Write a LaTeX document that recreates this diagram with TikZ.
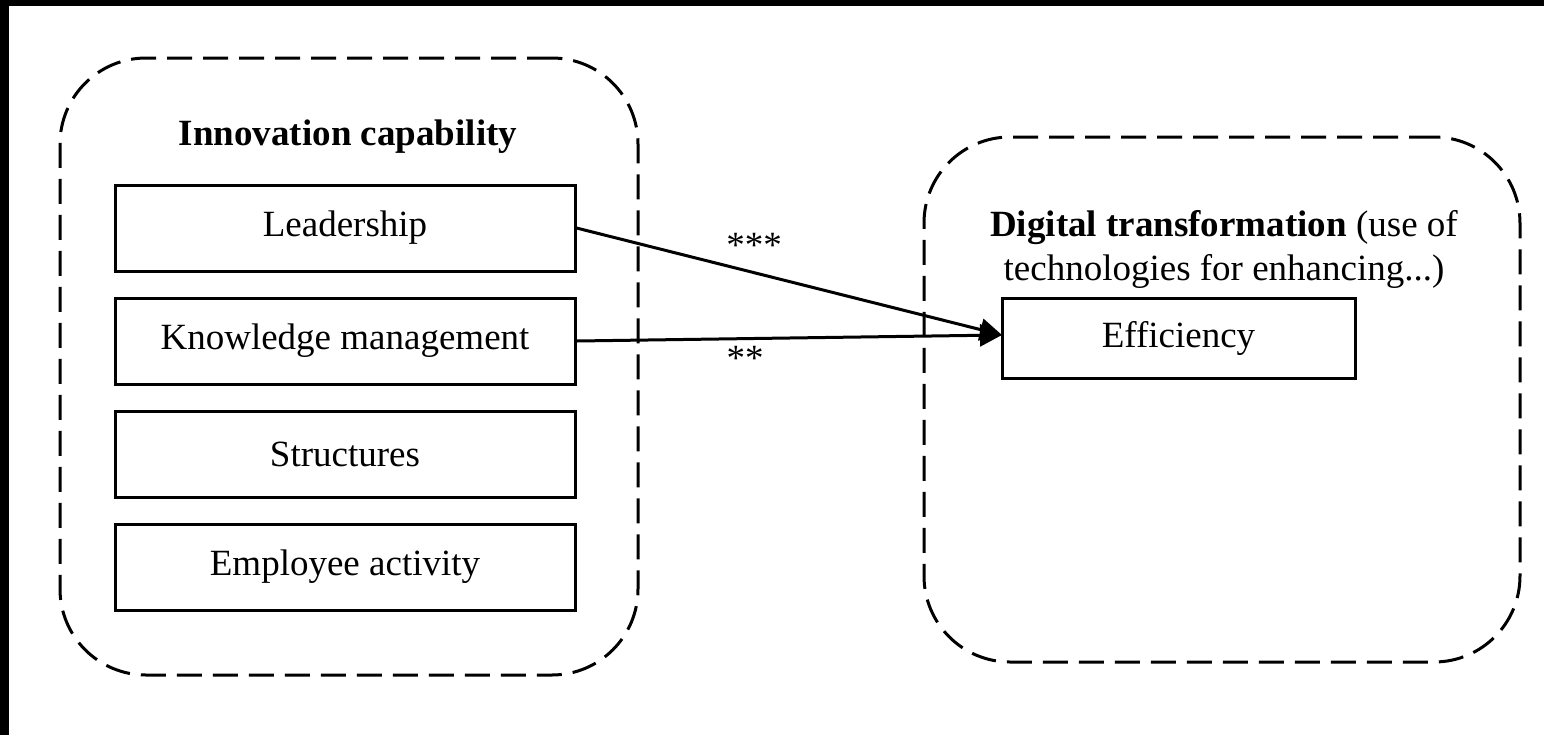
\documentclass[tikz,border=0pt]{standalone}
\usepackage{fontspec}
\setmainfont{Liberation Serif}
\usetikzlibrary{arrows.meta}
\tikzset{
  group/.style={draw, line width=1.5pt, dash pattern=on 12.5pt off 5.5pt, rounded corners=43pt, inner sep=0pt},
  itembox/.style={draw, line width=1.5pt, inner sep=0pt, font=\fontsize{18.5}{22}\selectfont},
  lbl/.style={inner sep=0pt, font=\fontsize{18.5}{22}\selectfont},
  link/.style={line width=1.5pt, -{Triangle[length=11pt,width=11pt]}}
}
\begin{document}
\begin{tikzpicture}[x=0.5pt,y=-0.5pt]
\useasboundingbox (0,0) rectangle (1544,735);
\fill[black] (0,0) rectangle (9,735);
\fill[black] (0,0) rectangle (1544,6);
% groups
\node[group, minimum width=289pt, minimum height=308.5pt] (ic) at (349,366.5) {};
\node[group, minimum width=298pt, minimum height=262.5pt] (dt) at (1222,399.5) {};
% titles
\node[lbl, font=\fontsize{18.5}{22}\selectfont\bfseries] (ictitle) at (348,137) {Innovation capability};
\node[lbl, align=center] (dttitle) at (1224,249) {\textbf{Digital transformation} (use of\\technologies for enhancing...)};
% items
\node[itembox, minimum width=230pt, minimum height=43pt] (lead) at (345,228) {Leadership};
\node[itembox, minimum width=230pt, minimum height=43pt] (km) at (345,341) {Knowledge management};
\node[itembox, minimum width=230pt, minimum height=43pt] (str) at (345,454) {Structures};
\node[itembox, minimum width=230pt, minimum height=43pt] (emp) at (345,567) {Employee activity};
\node[itembox, minimum width=176.5pt, minimum height=40pt] (eff) at (1178.5,338) {Efficiency};
\coordinate (tip) at (1002,335);
% connectors
\draw[link] (lead.east) -- (tip);
\draw[link] (km.east) -- (tip);
\node[lbl] (s3) at (754,245) {***};
\node[lbl] (s2) at (745,358) {**};
\end{tikzpicture}
\end{document}
